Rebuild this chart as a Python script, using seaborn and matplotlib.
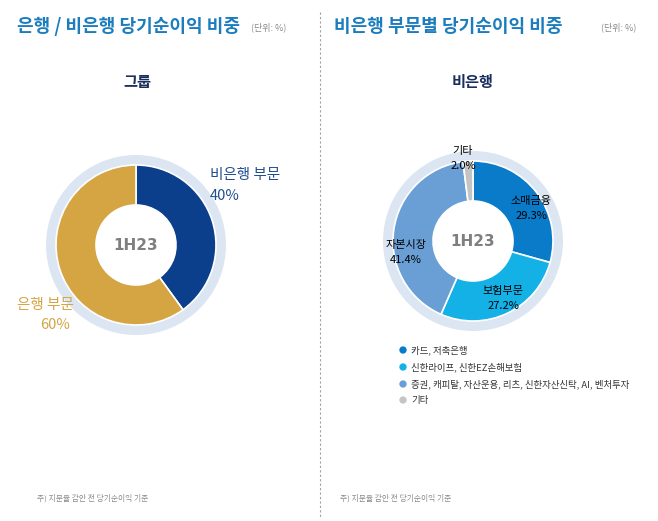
import matplotlib
matplotlib.use("Agg")
import matplotlib.pyplot as plt
import seaborn as sns
import pandas as pd

sns.set_theme(style="white")
plt.rcParams['font.family'] = ['Noto Sans CJK KR', 'DejaVu Sans']

# ---- data ----
group_labels = ["비은행 부문", "은행 부문"]
group_values = [40, 60]
group_colors = ["#0B3F8C", "#D5A443"]

nb_labels = ["소매금융", "보험부문", "자본시장", "기타"]
nb_values = [29.3, 27.2, 41.4, 2.0]
nb_colors = ["#0A7BC9", "#13B1E6", "#6A9FD6", "#C4C4C4"]

legend_labels = ["카드, 저축은행", "신한라이프, 신한EZ손해보험",
                 "증권, 캐피탈, 자산운용, 리츠, 신한자산신탁, AI, 벤처투자", "기타"]

W, H = 658, 521
fig = plt.figure(figsize=(W / 100, H / 100), dpi=100)
fig.patch.set_facecolor("white")


def fx(x):
    return x / W


def fy(y):
    return 1 - y / H


def txt(x, y, s, **kw):
    fig.text(fx(x), fy(y), s, **kw)


def donut(cx, cy, values, colors, label):
    R = 100
    ax = fig.add_axes([fx(cx - R), fy(cy + R), 2 * R / W, 2 * R / H])
    ax.set_xlim(-1, 1)
    ax.set_ylim(-1, 1)
    ax.set_aspect("equal")
    ax.axis("off")
    ax.pie([1], radius=0.9, colors=["#DCE6F2"], wedgeprops=dict(width=0.12, linewidth=0))
    ax.pie(values, radius=0.8, colors=colors, startangle=90, counterclock=False,
           wedgeprops=dict(width=0.4, edgecolor="white", linewidth=1.2))
    ax.set_xlim(-1, 1)
    ax.set_ylim(-1, 1)
    ax.text(0, 0, label, ha="center", va="center", fontsize=11, fontweight="bold",
            color="#7F7F7F", family=["DejaVu Sans"])
    return ax


# separator
sep = fig.add_axes([0, 0, 1, 1], facecolor="none")
sep.set_xlim(0, W)
sep.set_ylim(H, 0)
sep.axis("off")
sep.plot([320, 320], [12, 518], ls=(0, (2, 2)), color="#A0A0A0", lw=0.8)

# titles
title_color = "#1C7DBE"
txt(17, 26, "은행 / 비은행 당기순이익 비중", fontsize=13, fontweight="bold",
    color=title_color, va="center")
txt(251, 27, "(단위: %)", fontsize=6.5, color="#8A8A8A", va="center")
txt(334, 26, "비은행 부문별 당기순이익 비중", fontsize=13, fontweight="bold",
    color=title_color, va="center")
txt(601, 27, "(단위: %)", fontsize=6.5, color="#8A8A8A", va="center")

txt(137, 82, "그룹", fontsize=11, fontweight="bold", color="#1B2F5E", ha="center", va="center")
txt(473, 82, "비은행", fontsize=11, fontweight="bold", color="#1B2F5E", ha="center", va="center")

# donuts
donut(136, 245, group_values, group_colors, "1H23")
donut(473, 241, nb_values, nb_colors, "1H23")

# left labels
txt(210, 175, group_labels[0], fontsize=10.5, color="#1F4E8E", va="center", fontweight="medium")
txt(210, 196, f"{group_values[0]}%", fontsize=10.5, color="#1F4E8E", va="center", fontweight="medium")
txt(17, 305, group_labels[1], fontsize=10.5, color="#D5A443", va="center", fontweight="medium")
txt(40, 325, f"{group_values[1]}%", fontsize=10.5, color="#D5A443", va="center", fontweight="medium")

# right labels
lab_pos = [(531, 201), (503, 291), (406, 245), (463, 151)]
for (x, y), lab, v in zip(lab_pos, nb_labels, nb_values):
    txt(x, y, lab, fontsize=8, color="#000000", ha="center", va="center", fontweight="medium")
    txt(x, y + 15, f"{v:.1f}%", fontsize=8, color="#000000", ha="center", va="center", fontweight="medium")

# legend with seaborn scatter
leg_df = pd.DataFrame({"x": [403] * 4, "y": [350, 367, 384, 400], "lab": legend_labels})
leg_ax = fig.add_axes([0, 0, 1, 1], facecolor="none")
leg_ax.set_xlim(0, W)
leg_ax.set_ylim(H, 0)
leg_ax.axis("off")
sns.scatterplot(data=leg_df, x="x", y="y", hue="lab", palette=nb_colors, s=28,
                edgecolor="none", legend=False, ax=leg_ax)
for _, r in leg_df.iterrows():
    leg_ax.text(r["x"] + 8, r["y"], r["lab"], fontsize=6.8, color="#333333", va="center")
leg_ax.set_xlim(0, W)
leg_ax.set_ylim(H, 0)

# footnotes
txt(37, 498, "주) 지분율 감안 전 당기순이익 기준", fontsize=5.6, color="#8A8A8A", va="center")
txt(340, 498, "주) 지분율 감안 전 당기순이익 기준", fontsize=5.6, color="#8A8A8A", va="center")

fig.savefig("out.png", dpi=100, facecolor="white")
